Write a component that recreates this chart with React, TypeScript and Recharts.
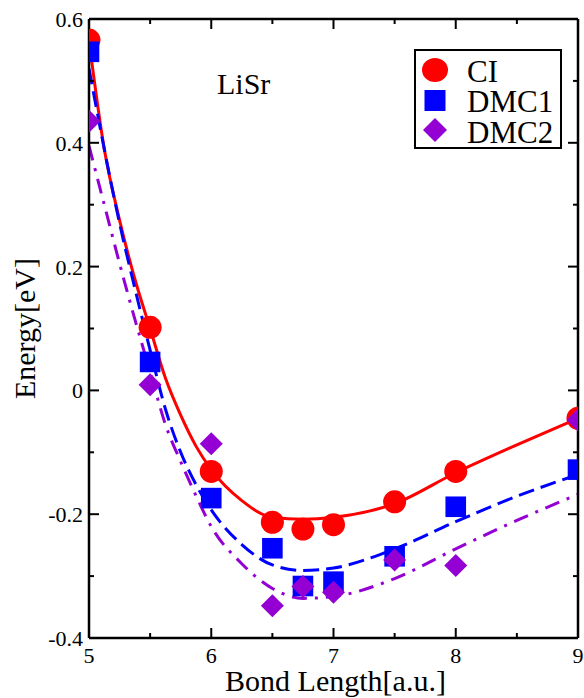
import React from "react";
import { ComposedChart, XAxis, YAxis, Line, Scatter } from "recharts";

// ---- data ----
const bondLengths = [5, 5.5, 6, 6.5, 6.75, 7, 7.5, 8, 9];
const ciEnergy = [0.566, 0.102, -0.131, -0.213, -0.224, -0.217, -0.18, -0.131, -0.045];
const dmc1Energy = [0.547, 0.046, -0.174, -0.255, -0.316, -0.309, -0.268, -0.188, -0.128];
const dmc2Energy = [0.435, 0.009, -0.086, -0.348, -0.317, -0.326, -0.274, -0.283, -0.048];

const fitBondLengths = [5, 5.125, 5.25, 5.375, 5.5, 5.625, 5.75, 5.875, 6, 6.25, 6.5, 6.75, 7, 7.5, 8, 8.5, 9];
const ciFit = [0.565, 0.39, 0.275, 0.18, 0.1, 0.02, -0.04, -0.09, -0.128, -0.178, -0.205, -0.208, -0.205, -0.183, -0.133, -0.088, -0.045];
const dmc1Fit = [0.52, 0.39, 0.27, 0.165, 0.065, -0.03, -0.1, -0.152, -0.193, -0.249, -0.282, -0.291, -0.287, -0.256, -0.212, -0.171, -0.136];
const dmc2Fit = [0.395, 0.3, 0.205, 0.115, 0.03, -0.055, -0.115, -0.17, -0.22, -0.28, -0.32, -0.336, -0.333, -0.304, -0.256, -0.21, -0.168];

const seriesNames = ["CI", "DMC1", "DMC2"];
const xTicks = [5, 6, 7, 8, 9];
const xMinorTicks = [5.5, 6.5, 7.5, 8.5];
const yTicks = [-0.4, -0.2, 0, 0.2, 0.4, 0.6];
const yMinorTicks = [-0.3, -0.1, 0.1, 0.3, 0.5];
const xTitle = "Bond Length[a.u.]";
const yTitle = "Energy[eV]";
const annotation = "LiSr";

const toPts = (xs: number[], ys: number[]) => xs.map((x, i) => ({ x, y: ys[i] }));
const ciPts = toPts(bondLengths, ciEnergy);
const dmc1Pts = toPts(bondLengths, dmc1Energy);
const dmc2Pts = toPts(bondLengths, dmc2Energy);
const ciFitPts = toPts(fitBondLengths, ciFit);
const dmc1FitPts = toPts(fitBondLengths, dmc1Fit);
const dmc2FitPts = toPts(fitBondLengths, dmc2Fit);

const allXTicks = [...xTicks, ...xMinorTicks].sort((a, b) => a - b);
const allYTicks = [...yTicks, ...yMinorTicks].sort((a, b) => a - b);

const RED = "#ff0000";
const BLUE = "#0000ff";
const VIOLET = "#9400d3";
const FONT = "'Liberation Serif', 'Times New Roman', serif";

const W = 584;
const H = 698;
const MAJOR = 10;
const MINOR = 5;

const axisLineStyle = { stroke: "#000", strokeWidth: 2.5 };

const BottomTick = (p: any) => {
  const v = p.payload.value;
  const major = xTicks.includes(v);
  return (
    <g>
      <line x1={p.x} x2={p.x} y1={p.y} y2={p.y - (major ? MAJOR : MINOR)} stroke="#000" strokeWidth={2} />
      {major && (
        <text x={p.x} y={p.y + 25} textAnchor="middle" fontSize={22} fontFamily={FONT} fill="#000">
          {String(v)}
        </text>
      )}
    </g>
  );
};
const TopTick = (p: any) => {
  const v = p.payload.value;
  const major = xTicks.includes(v);
  return <line x1={p.x} x2={p.x} y1={p.y} y2={p.y + (major ? MAJOR : MINOR)} stroke="#000" strokeWidth={2} />;
};
const LeftTick = (p: any) => {
  const v = p.payload.value;
  const major = yTicks.includes(v);
  return (
    <g>
      <line x1={p.x} x2={p.x + (major ? MAJOR : MINOR)} y1={p.y} y2={p.y} stroke="#000" strokeWidth={2} />
      {major && (
        <text x={p.x - 6} y={p.y + 8} textAnchor="end" fontSize={22} fontFamily={FONT} fill="#000">
          {String(v)}
        </text>
      )}
    </g>
  );
};
const RightTick = (p: any) => {
  const v = p.payload.value;
  const major = yTicks.includes(v);
  return <line x1={p.x} x2={p.x - (major ? MAJOR : MINOR)} y1={p.y} y2={p.y} stroke="#000" strokeWidth={2} />;
};

const circleShape = (p: any) => <circle cx={p.cx} cy={p.cy} r={11.5} fill={RED} />;
const squareShape = (p: any) => (
  <rect x={p.cx - 10.3} y={p.cy - 10.3} width={20.6} height={20.6} fill={BLUE} />
);
const diamondShape = (p: any) => (
  <polygon
    points={`${p.cx},${p.cy - 11.5} ${p.cx + 11.5},${p.cy} ${p.cx},${p.cy + 11.5} ${p.cx - 11.5},${p.cy}`}
    fill={VIOLET}
  />
);

export default function App() {
  return (
    <div style={{ position: "absolute", left: 0, top: 0, width: W, height: H, background: "#fff" }}>
      <ComposedChart width={W} height={H} margin={{ top: 18, right: 5, bottom: 59, left: 88 }}>
        <XAxis
          xAxisId="x"
          dataKey="x"
          type="number"
          domain={[5, 9]}
          ticks={allXTicks}
          interval={0}
          allowDataOverflow
          height={1}
          tickSize={0}
          tickMargin={0}
          axisLine={axisLineStyle}
          tickLine={false}
          tick={BottomTick}
          label={{
            value: xTitle,
            position: "bottom",
            offset: 31,
            dx: 2,
            style: { fill: "#000", fontSize: 30, fontFamily: FONT },
          }}
        />
        <XAxis
          xAxisId="xt"
          orientation="top"
          dataKey="x"
          type="number"
          domain={[5, 9]}
          ticks={allXTicks}
          interval={0}
          allowDataOverflow
          height={1}
          tickSize={0}
          tickMargin={0}
          axisLine={axisLineStyle}
          tickLine={false}
          tick={TopTick}
        />
        <YAxis
          yAxisId="y"
          dataKey="y"
          type="number"
          domain={[-0.4, 0.6]}
          ticks={allYTicks}
          interval={0}
          allowDataOverflow
          width={1}
          tickSize={0}
          tickMargin={0}
          axisLine={axisLineStyle}
          tickLine={false}
          tick={LeftTick}
          label={{
            value: yTitle,
            position: "center",
            angle: -90,
            dx: -64,
            style: { fill: "#000", fontSize: 30, fontFamily: FONT },
          }}
        />
        <YAxis
          yAxisId="yr"
          orientation="right"
          type="number"
          domain={[-0.4, 0.6]}
          ticks={allYTicks}
          interval={0}
          allowDataOverflow
          width={1}
          tickSize={0}
          tickMargin={0}
          axisLine={axisLineStyle}
          tickLine={false}
          tick={RightTick}
        />

        <Scatter xAxisId="x" yAxisId="y" name={seriesNames[0]} data={ciPts} dataKey="y" shape={circleShape} isAnimationActive={false} />
        <Scatter xAxisId="x" yAxisId="y" name={seriesNames[1]} data={dmc1Pts} dataKey="y" shape={squareShape} isAnimationActive={false} />
        <Scatter xAxisId="x" yAxisId="y" name={seriesNames[2]} data={dmc2Pts} dataKey="y" shape={diamondShape} isAnimationActive={false} />

        <Line xAxisId="x" yAxisId="y" data={ciFitPts} dataKey="y" type="monotone" stroke={RED} strokeWidth={3} dot={false} activeDot={false} isAnimationActive={false} />
        <Line xAxisId="x" yAxisId="y" data={dmc1FitPts} dataKey="y" type="monotone" stroke={BLUE} strokeWidth={3} strokeDasharray="16 7" dot={false} activeDot={false} isAnimationActive={false} />
        <Line xAxisId="x" yAxisId="y" data={dmc2FitPts} dataKey="y" type="monotone" stroke={VIOLET} strokeWidth={3} strokeDasharray="15 8 3 8" dot={false} activeDot={false} isAnimationActive={false} />
      </ComposedChart>

      {/* annotation and legend overlay */}
      <svg width={W} height={H} style={{ position: "absolute", left: 0, top: 0, pointerEvents: "none" }}>
        <text x={217} y={94} fontSize={30} fontFamily={FONT} fill="#000">
          {annotation}
        </text>
        <rect x={415} y={50} width={146} height={98} fill="#fff" stroke="#000" strokeWidth={2} />
        <ellipse cx={435} cy={70} rx={13} ry={12} fill={RED} />
        <rect x={424.5} y={90} width={21} height={21} fill={BLUE} />
        <polygon points="435,118 447,130 435,142 423,130" fill={VIOLET} />
        <text x={467} y={82} fontSize={31} fontFamily={FONT} fill="#000">{seriesNames[0]}</text>
        <text x={467} y={112} fontSize={31} fontFamily={FONT} fill="#000">{seriesNames[1]}</text>
        <text x={467} y={142.5} fontSize={31} fontFamily={FONT} fill="#000">{seriesNames[2]}</text>
      </svg>
    </div>
  );
}
